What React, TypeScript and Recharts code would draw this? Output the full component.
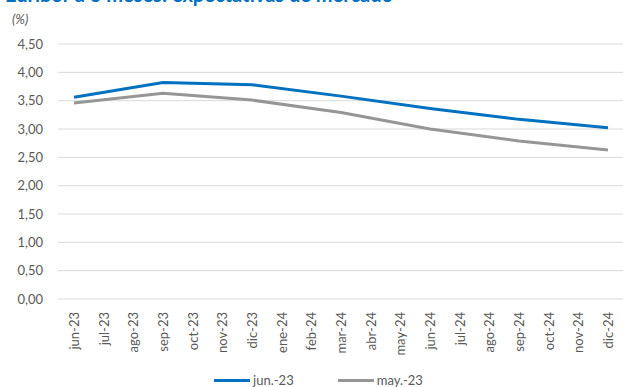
import { LineChart, Line, XAxis, YAxis, CartesianGrid, Legend } from 'recharts';

const months = [
    'jun-23', 'jul-23', 'ago-23', 'sep-23', 'oct-23', 'nov-23', 'dic-23', 'ene-24', 'feb-24',
    'mar-24', 'abr-24', 'may-24', 'jun-24', 'jul-24', 'ago-24', 'sep-24', 'oct-24', 'nov-24', 'dic-24',
];

// quarterly points only, the rest stay empty and the line is joined over them
const jun23 = [3.56, null, null, 3.82, null, null, 3.78, null, null, 3.58, null, null, 3.36, null, null, 3.17, null, null, 3.02];
const may23 = [3.46, null, null, 3.63, null, null, 3.51, null, null, 3.29, null, null, 3.0, null, null, 2.79, null, null, 2.63];

const yTicks = [0, 0.5, 1, 1.5, 2, 2.5, 3, 3.5, 4, 4.5];

const seriesNames = ['jun.-23', 'may.-23'];
const seriesColors = ['#0070C0', '#969696'];

const data = months.map((m, i) => ({ month: m, jun23: jun23[i], may23: may23[i] }));

const FONT = 'Lato, "Open Sans", sans-serif';

function MonthTick({ x, y, payload }: any) {
    return (
        <text
            x={x}
            y={y + 5}
            transform={`rotate(-90 ${x} ${y + 5})`}
            textAnchor="end"
            dominantBaseline="central"
            fill="#595959"
            fontSize={13}
            fontFamily={FONT}
        >
            {payload.value}
        </text>
    );
}

function LegendContent() {
    return (
        <div
            style={{
                display: 'flex', justifyContent: 'center', gap: 44, paddingLeft: 14,
                fontFamily: FONT, fontSize: 13, lineHeight: '14px', color: '#595959',
            }}
        >
            {seriesNames.map((name, i) => (
                <div key={name} style={{ display: 'flex', alignItems: 'center' }}>
                    <span style={{ display: 'inline-block', width: 36, height: 3, background: seriesColors[i], marginRight: 3 }} />
                    <span>{name}</span>
                </div>
            ))}
        </div>
    );
}

export default function App() {
    return (
        <div style={{ position: 'fixed', top: 0, left: 0, width: 623, height: 387, overflow: 'hidden', background: '#fff' }}>
            <div
                style={{
                    position: 'absolute', top: -16, left: 5, fontFamily: FONT, fontWeight: 700,
                    fontSize: 20, lineHeight: '20px', color: '#0070C0', whiteSpace: 'nowrap',
                }}
            >
                Euribor a 3 meses: expectativas de mercado
            </div>
            <div
                style={{
                    position: 'absolute', top: 12, left: 12, fontFamily: FONT, fontStyle: 'italic',
                    fontSize: 13, lineHeight: '15px', color: '#595959',
                }}
            >
                (%)
            </div>
            <LineChart width={623} height={387} data={data} margin={{ top: 44, right: 0, bottom: 0, left: 0 }}>
                <CartesianGrid vertical={false} stroke="#D9D9D9" strokeWidth={1} />
                <XAxis
                    dataKey="month"
                    interval={0}
                    axisLine={false}
                    tickLine={false}
                    height={74}
                    padding={{ left: 16, right: 15 }}
                    tick={<MonthTick />}
                />
                <YAxis
                    domain={[0, 4.5]}
                    ticks={yTicks}
                    width={58}
                    axisLine={false}
                    tickLine={false}
                    tickMargin={9}
                    tickFormatter={(v: number) => v.toFixed(2).replace('.', ',')}
                    tick={{ fill: '#595959', fontSize: 13, fontFamily: FONT }}
                />
                <Legend verticalAlign="bottom" height={14} content={<LegendContent />} />
                <Line
                    type="linear"
                    dataKey="jun23"
                    name={seriesNames[0]}
                    stroke={seriesColors[0]}
                    strokeWidth={3}
                    dot={false}
                    connectNulls
                    isAnimationActive={false}
                />
                <Line
                    type="linear"
                    dataKey="may23"
                    name={seriesNames[1]}
                    stroke={seriesColors[1]}
                    strokeWidth={3}
                    dot={false}
                    connectNulls
                    isAnimationActive={false}
                />
            </LineChart>
        </div>
    );
}
